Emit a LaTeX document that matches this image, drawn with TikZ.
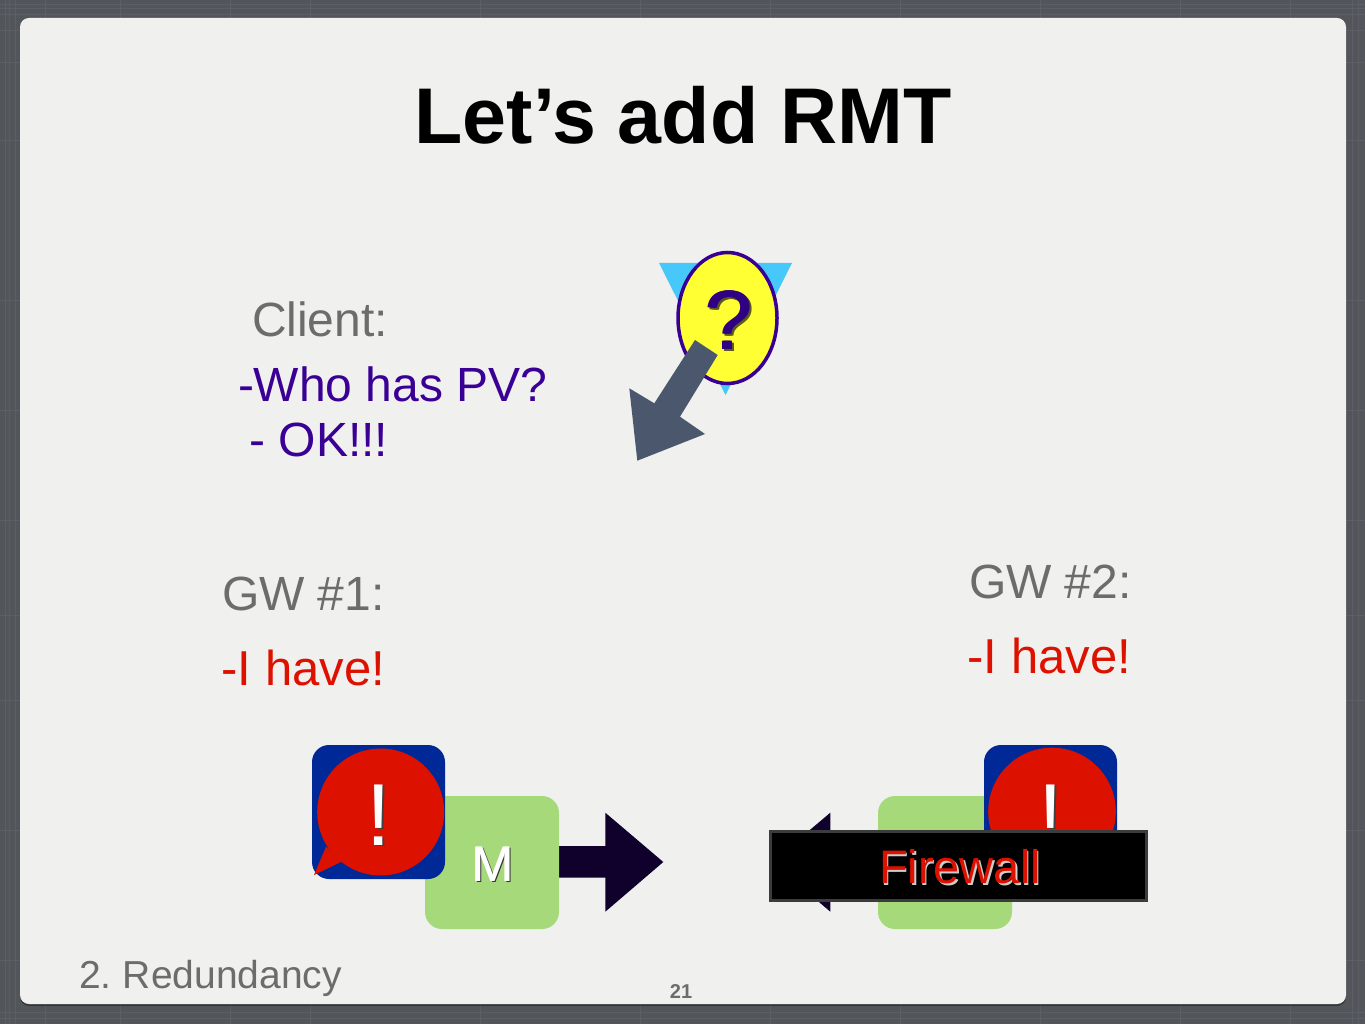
\documentclass[tikz,border=0pt]{standalone}
\usepackage{fontspec}
\setmainfont{Liberation Sans}
\definecolor{bgdark}{RGB}{82,86,91}
\definecolor{bgline}{RGB}{100,104,110}
\definecolor{panel}{RGB}{240,240,238}
\definecolor{graytxt}{RGB}{108,108,106}
\definecolor{purp}{RGB}{58,0,150}
\definecolor{qpurp}{RGB}{48,0,130}
\definecolor{redtxt}{RGB}{221,17,0}
\definecolor{bluebox}{RGB}{0,40,150}
\definecolor{greenbox}{RGB}{166,217,122}
\definecolor{navyarrow}{RGB}{16,0,44}
\definecolor{slatearrow}{RGB}{74,87,108}
\definecolor{skyblue}{RGB}{70,200,250}
\definecolor{yellowfill}{RGB}{255,255,51}
\definecolor{barline}{RGB}{60,60,60}
\definecolor{qshade}{RGB}{90,90,30}
\tikzset{
  txt/.style={anchor=base west,inner sep=0pt,outer sep=0pt},
  ctxt/.style={anchor=base,inner sep=0pt,outer sep=0pt},
  blueb/.style={fill=bluebox,rounded corners=17pt},
  greenb/.style={fill=greenbox,rounded corners=17pt},
}
\newcommand{\fsz}[1]{\fontsize{#1}{#1}\selectfont}
\begin{document}
\begin{tikzpicture}[x=1pt,y=-1pt]
\useasboundingbox (0,0) rectangle (1365,1024);
\fill[bgdark] (0,0) rectangle (1365,1024);
\foreach \v in {4,8,14,30,62,140,300,410,520,615,700,830,960,1012,1018}{
  \draw[bgline,line width=0.7pt,opacity=.6] (0,\v) -- (1365,\v);}
\foreach \v in {5,9,15,45,120,230,310,480,640,770,900,1040,1180,1290,1352,1358}{
  \draw[bgline,line width=0.7pt,opacity=.6] (\v,0) -- (\v,1024);}
% panel
\fill[black,opacity=.35,rounded corners=9pt] (20,20) rectangle (1346,1006);
\fill[panel,rounded corners=9pt] (20,18) rectangle (1346,1004);
% title
\node[ctxt,font=\fsz{79}\bfseries,text=black] (title) at (683,144) {Let’s add RMT};
% client
\node[txt,font=\fsz{48},text=graytxt] (client) at (252,336) {Client:};
\node[txt,font=\fsz{48},text=purp] (who) at (238,401) {-Who has PV?};
\node[txt,font=\fsz{48},text=purp] (ok) at (249.5,456) {- OK!!!};
% question
\fill[skyblue] (659,263) -- (792,263) -- (725.5,395) -- cycle;
\draw[purp,fill=yellowfill,line width=3.5pt] (727.5,318) circle [x radius=49.5,y radius=65.5];
\foreach \d/\n in {0/a,1/b,2/c}{
  \node[ctxt,font=\fsz{84},text=qshade] (qs\n) at (729.5+\d,351) {?};}
\foreach \d/\n in {0/a,1/b,2/c}{
  \node[ctxt,font=\fsz{84},text=qpurp] (q\n) at (728+\d,349.5) {?};}
\fill[slatearrow] (695,340) -- (717.7,355) -- (680,416.7) -- (705,434) -- (637.3,460.7) -- (629.3,388.3) -- (654.3,403.3) -- cycle;
% GW1
\node[txt,font=\fsz{48},text=graytxt] (gw1) at (222,610) {GW \#1:};
\node[txt,font=\fsz{49},text=redtxt] (have1) at (221.5,685) {-I have!};
\fill[navyarrow] (559,846) -- (605.3,846) -- (605.3,812.7) -- (663.3,862) -- (605.3,911.7) -- (605.3,877.7) -- (559,877.7) -- cycle;
\fill[greenb] (425,796) rectangle (559,929);
\node[ctxt,font=\fsz{50},text=black!80] (mshadow) at (494,882.5) {M};
\node[ctxt,font=\fsz{50},text=white] (m) at (492.5,881) {M};
\node[ctxt,font=\fsz{50},text=white] (m2) at (493,881) {M};
\fill[blueb] (312,745) rectangle (445,879);
\fill[redtxt] (314,875) -- (326,846.7) -- (345,860) -- cycle;
\fill[redtxt] (380.7,812) circle (63.5);
\node[ctxt,font=\fsz{88},text=black!75] (ex1s) at (380.5,846) {!};
\node[ctxt,font=\fsz{88},text=white] (ex1) at (378.5,845) {!};
% GW2
\node[txt,font=\fsz{48},text=graytxt] (gw2) at (969,598) {GW \#2:};
\node[txt,font=\fsz{49},text=redtxt] (have2) at (967.5,673) {-I have!};
\fill[navyarrow] (878,846) -- (830.3,846) -- (830.3,812.7) -- (772,862) -- (830.3,911.7) -- (830.3,877.7) -- (878,877.7) -- cycle;
\fill[greenb] (878,796) rectangle (1012,929);
\fill[blueb] (984,745) rectangle (1117,879);
\fill[redtxt] (1052,811.5) circle (63.8);
\node[ctxt,font=\fsz{88},text=black!75] (ex2s) at (1052.5,846) {!};
\node[ctxt,font=\fsz{88},text=white] (ex2) at (1050.5,845) {!};
\draw[draw=barline,fill=black,line width=3pt] (770.5,831.5) rectangle (1146.5,900.2);
\node[ctxt,font=\fsz{47},text=white!80!black] (fws) at (961.5,885) {Firewall};
\node[ctxt,font=\fsz{47},text=redtxt] (fw) at (960,883.5) {Firewall};
% footer
\node[txt,font=\fsz{39},text=graytxt] (sec) at (79,988) {2.\kern 11.5pt Redundancy};
\node[ctxt,font=\fsz{20}\bfseries,text=graytxt] (num) at (681,998) {21};
\end{tikzpicture}
\end{document}
